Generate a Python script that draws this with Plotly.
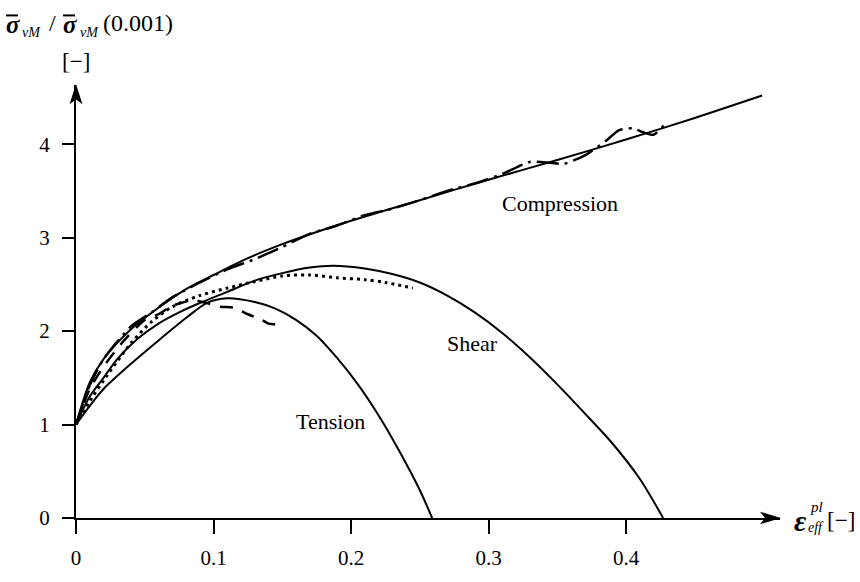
import plotly.graph_objects as go

# ---- data: normalised von Mises stress vs. effective plastic strain ----
comp_x = [0, 0.01, 0.02, 0.04, 0.06, 0.08, 0.10, 0.125, 0.15, 0.175, 0.20,
          0.25, 0.30, 0.35, 0.40, 0.45, 0.499]
comp_y = [1.0, 1.45, 1.70, 2.02, 2.25, 2.45, 2.60, 2.78, 2.93, 3.06, 3.18,
          3.40, 3.62, 3.83, 4.05, 4.28, 4.52]

shear_x = [0, 0.01, 0.02, 0.03, 0.045, 0.06, 0.075, 0.09, 0.11, 0.13, 0.15,
           0.17, 0.187, 0.21, 0.23, 0.25, 0.27, 0.29, 0.31, 0.33, 0.35, 0.37,
           0.39, 0.41, 0.427]
shear_y = [1.0, 1.30, 1.50, 1.70, 1.92, 2.08, 2.20, 2.30, 2.42, 2.54, 2.62,
           2.68, 2.70, 2.67, 2.61, 2.52, 2.38, 2.20, 1.98, 1.72, 1.43, 1.12,
           0.80, 0.42, 0.0]

tens_x = [0, 0.01, 0.02, 0.04, 0.06, 0.08, 0.095, 0.11, 0.13, 0.145, 0.16,
          0.175, 0.19, 0.205, 0.22, 0.235, 0.25, 0.259]
tens_y = [1.0, 1.20, 1.38, 1.65, 1.90, 2.14, 2.30, 2.35, 2.31, 2.24, 2.12,
          1.95, 1.71, 1.43, 1.10, 0.72, 0.30, 0.0]

exp_shear_x = [0, 0.01, 0.02, 0.04, 0.055, 0.07, 0.09, 0.11, 0.13, 0.15,
               0.17, 0.19, 0.21, 0.225, 0.245]
exp_shear_y = [1.0, 1.25, 1.47, 1.87, 2.10, 2.26, 2.38, 2.46, 2.53, 2.59,
               2.60, 2.57, 2.55, 2.52, 2.46]

exp_tens_x = [0, 0.01, 0.02, 0.035, 0.05, 0.06, 0.07, 0.085, 0.095, 0.105,
              0.115, 0.125, 0.135, 0.14, 0.145, 0.15]
exp_tens_y = [1.0, 1.38, 1.62, 1.90, 2.12, 2.18, 2.27, 2.33, 2.30, 2.26,
              2.25, 2.18, 2.12, 2.08, 2.07, 2.06]

exp_comp_x = [0, 0.01, 0.02, 0.04, 0.055, 0.07, 0.09, 0.11, 0.13, 0.15, 0.17,
              0.19, 0.21, 0.23, 0.25, 0.27, 0.29, 0.31, 0.33, 0.345, 0.355,
              0.37, 0.385, 0.395, 0.405, 0.412, 0.42, 0.43]
exp_comp_y = [1.0, 1.42, 1.70, 2.05, 2.20, 2.36, 2.52, 2.66, 2.77, 2.90, 3.04,
              3.13, 3.24, 3.31, 3.40, 3.50, 3.58, 3.68, 3.81, 3.80, 3.79,
              3.88, 4.03, 4.15, 4.17, 4.13, 4.10, 4.24]

x_ticks = [0, 0.1, 0.2, 0.3, 0.4]
x_tick_text = ["0", "0.1", "0.2", "0.3", "0.4"]
y_ticks = [0, 1, 2, 3, 4]
y_tick_text = ["0", "1", "2", "3", "4"]

curve_labels = ["Compression", "Shear", "Tension"]
curve_label_x = [0.352, 0.288, 0.185]
curve_label_y = [3.37, 1.87, 1.03]

# ---- layout geometry (pixels) ----
W, H = 860, 582
L, R, T, B = 76, 80, 85, 49
PW, PH = W - L - R, H - T - B
X_MAX = PW / 1375.0
Y_MAX = PH / 96.7

SERIF = "Liberation Serif, Times New Roman, serif"


def paper(px, py):
    return (px - L) / PW, (H - B - py) / PH


def paper_path(points):
    parts = []
    for i, (px, py) in enumerate(points):
        x, y = paper(px, py)
        parts.append(("M" if i == 0 else "L") + f"{x:.5f},{y:.5f}")
    return " ".join(parts) + " Z"


def text_at(px, py, text, size, xanchor="center", yanchor="middle"):
    x, y = paper(px, py)
    fig.add_annotation(x=x, y=y, xref="paper", yref="paper", text=text,
                       xanchor=xanchor, yanchor=yanchor, showarrow=False,
                       font=dict(family=SERIF, size=size, color="black"))


fig = go.Figure()

fig.add_trace(go.Scatter(x=exp_comp_x, y=exp_comp_y, mode="lines",
                         line=dict(color="black", width=2.5,
                                   dash="22px,6px,3px,6px",
                                   shape="spline", smoothing=0.6)))
fig.add_trace(go.Scatter(x=exp_tens_x, y=exp_tens_y, mode="lines",
                         line=dict(color="black", width=2.5, dash="13px,10px",
                                   shape="spline", smoothing=0.6)))
fig.add_trace(go.Scatter(x=exp_shear_x, y=exp_shear_y, mode="lines",
                         line=dict(color="black", width=3, dash="3px,4px",
                                   shape="spline", smoothing=0.8)))
for cx, cy in [(comp_x, comp_y), (shear_x, shear_y), (tens_x, tens_y)]:
    fig.add_trace(go.Scatter(x=cx, y=cy, mode="lines",
                             line=dict(color="black", width=2,
                                       shape="spline", smoothing=0.8)))

for txt, lx, ly in zip(curve_labels, curve_label_x, curve_label_y):
    fig.add_annotation(x=lx, y=ly, xref="x", yref="y", text=txt,
                       xanchor="center", yanchor="middle",
                       showarrow=False, font=dict(family=SERIF, size=22,
                                                  color="black"))

# axis arrowheads
fig.add_shape(type="path", xref="paper", yref="paper",
              path=paper_path([(781, 533), (760, 526.5), (765, 533),
                               (760, 539.5)]),
              fillcolor="black", line=dict(width=0))
fig.add_shape(type="path", xref="paper", yref="paper",
              path=paper_path([(76, 84), (69.5, 105), (76, 100),
                               (82.5, 105)]),
              fillcolor="black", line=dict(width=0))

# y-axis title, built piece by piece
text_at(4, 22, "<b><i>σ</i></b>", 25, xanchor="left")
text_at(20, 31, "<i>vM</i>", 14, xanchor="left")
text_at(52, 21, "/", 24)
text_at(61, 22, "<b><i>σ</i></b>", 25, xanchor="left")
text_at(78, 31, "<i>vM</i>", 14, xanchor="left")
text_at(101, 21, "(0.001)", 24, xanchor="left")
for bx0, bx1 in [(6, 18), (63, 75)]:
    x0, y0 = paper(bx0, 13)
    x1, _ = paper(bx1, 13)
    fig.add_shape(type="line", xref="paper", yref="paper", x0=x0, x1=x1,
                  y0=y0, y1=y0, line=dict(color="black", width=2))
text_at(76, 61, "[−]", 23)

# x-axis title
text_at(800, 536, "<b><i>ε</i></b>", 30)
text_at(808, 522, "<i>pl</i>", 15, xanchor="left")
text_at(806, 543, "<i>eff</i>", 14, xanchor="left")
text_at(841, 536, "[−]", 23)

axis_common = dict(showline=True, linecolor="black", linewidth=2,
                   ticks="outside", tickcolor="black", tickwidth=2,
                   showgrid=False, zeroline=False,
                   tickfont=dict(family=SERIF, size=21, color="black"))
fig.update_xaxes(range=[0, X_MAX], tickvals=x_ticks, ticktext=x_tick_text,
                 ticklen=14, ticklabelstandoff=6, **axis_common)
fig.update_yaxes(range=[0, Y_MAX], tickvals=y_ticks, ticktext=y_tick_text,
                 ticklen=12, ticklabelstandoff=8, **axis_common)

fig.update_layout(width=W, height=H, margin=dict(l=L, r=R, t=T, b=B),
                  paper_bgcolor="white", plot_bgcolor="white",
                  showlegend=False, hovermode=False)

fig.write_html("out.html")
